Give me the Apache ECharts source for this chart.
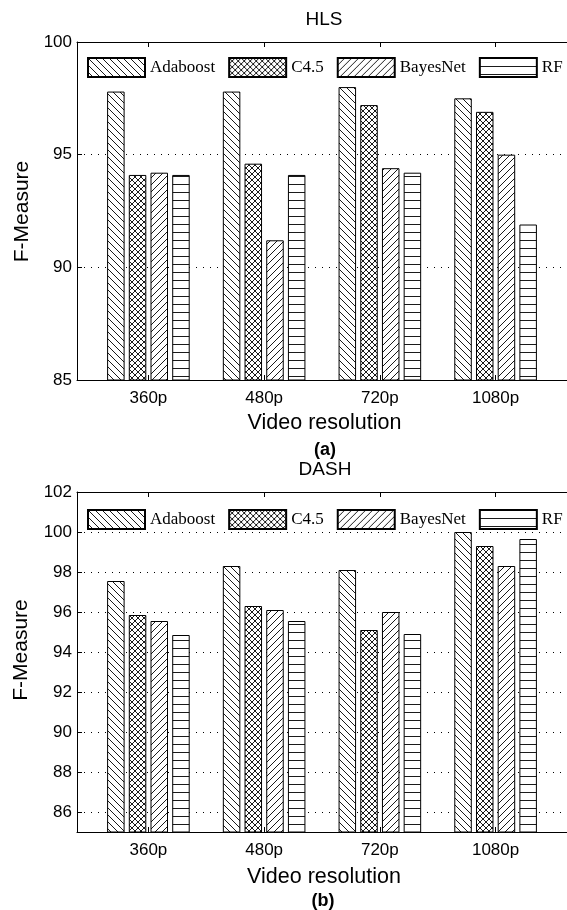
<!DOCTYPE html>
<html>
<head>
<meta charset="utf-8">
<script src="https://cdn.jsdelivr.net/npm/echarts@6/dist/echarts.min.js"></script>
<style>
html,body{margin:0;padding:0;background:#fff;}
#chart{width:567px;height:910px;}
</style>
</head>
<body>
<div id="chart"></div>
<script>
// ---- data ----
const categories = ['360p', '480p', '720p', '1080p'];
const seriesNames = ['Adaboost', 'C4.5', 'BayesNet', 'RF'];

const hlsAdaboost = [97.8, 97.8, 98.0, 97.5];
const hlsC45      = [94.1, 94.6, 97.2, 96.9];
const hlsBayesNet = [94.2, 91.2, 94.4, 95.0];
const hlsRF       = [94.1, 94.1, 94.2, 91.9];

const dashAdaboost = [97.55, 98.3, 98.1, 100.0];
const dashC45      = [95.85, 96.3, 95.1, 99.3];
const dashBayesNet = [95.55, 96.1, 96.0, 98.3];
const dashRF       = [94.85, 95.55, 94.9, 99.65];

const hlsTicks  = [85, 90, 95, 100];
const hlsGrid   = [90, 95];
const dashTicks = [86, 88, 90, 92, 94, 96, 98, 100, 102];
const dashGrid  = [86, 88, 90, 92, 94, 96, 98, 100];

// ---- patterns ----
function makePattern(kind) {
  const c = document.createElement('canvas');
  const ink = '#1a1a1a';
  let w, h;
  if (kind === 'back' || kind === 'fwd') { w = h = 7; }
  else if (kind === 'cross') { w = h = 6; }
  else { w = 4; h = 8; }
  c.width = w; c.height = h;
  const ctx = c.getContext('2d');
  ctx.fillStyle = '#fff';
  ctx.fillRect(0, 0, w, h);
  ctx.fillStyle = ink;
  if (kind === 'back') {
    for (let i = 0; i < w; i++) ctx.fillRect(i, i, 1, 1);
  } else if (kind === 'fwd') {
    for (let i = 0; i < w; i++) ctx.fillRect(w - 1 - i, i, 1, 1);
  } else if (kind === 'cross') {
    for (let i = 0; i < w; i++) { ctx.fillRect(i, i, 1, 1); ctx.fillRect(w - 1 - i, i, 1, 1); }
  } else {
    ctx.fillRect(0, 0, w, 1);
  }
  return { image: c, repeat: 'repeat' };
}
const patterns = [makePattern('back'), makePattern('cross'), makePattern('fwd'), makePattern('horiz')];

const xPos = categories.map((c, i) => i + 1);
const xMin = 0.383, xMax = 4.617;
const sans = '"Liberation Sans", Arial, sans-serif';
const serif = '"Liberation Serif", "Times New Roman", serif';

const grids = [
  { left: 77, top: 42, width: 501, height: 338 },
  { left: 77, top: 492, width: 501, height: 340 }
];
const yRanges = [[85, 100], [85, 102]];
const yTicks = [hlsTicks, dashTicks];
const yGridVals = [hlsGrid, dashGrid];

const xAxes = [], yAxes = [];
[0, 1].forEach(g => {
  xAxes.push({
    type: 'value', gridIndex: g, position: 'bottom', min: xMin, max: xMax,
    axisLine: { show: true, onZero: false, lineStyle: { color: '#000', width: 1 } },
    axisTick: { show: true, customValues: xPos, inside: true, length: 5, lineStyle: { color: '#000' } },
    axisLabel: { show: true, customValues: xPos, formatter: v => categories[Math.round(v) - 1],
      fontSize: 17, fontFamily: sans, color: '#000', margin: 10 },
    splitLine: { show: false }
  });
  xAxes.push({
    type: 'value', gridIndex: g, position: 'top', min: xMin, max: xMax,
    axisLine: { show: true, onZero: false, lineStyle: { color: '#000', width: 1 } },
    axisTick: { show: true, customValues: xPos, inside: true, length: 5, lineStyle: { color: '#000' } },
    axisLabel: { show: false },
    splitLine: { show: false }
  });
  yAxes.push({
    type: 'value', gridIndex: g, position: 'left', min: yRanges[g][0], max: yRanges[g][1],
    axisLine: { show: false },
    axisTick: { show: true, customValues: yGridVals[g], inside: true, length: 501,
      lineStyle: { color: '#000', width: 1, type: [1, 6] } },
    axisLabel: { show: false },
    splitLine: { show: false }
  });
  yAxes.push({
    type: 'value', gridIndex: g, position: 'left', min: yRanges[g][0], max: yRanges[g][1],
    axisLine: { show: true, onZero: false, lineStyle: { color: '#000', width: 1 } },
    axisTick: { show: true, customValues: yTicks[g], inside: true, length: 5, lineStyle: { color: '#000' } },
    axisLabel: { show: true, customValues: yTicks[g], fontSize: 17, fontFamily: sans, color: '#000', margin: 5 },
    splitLine: { show: false }
  });
});

const seriesData = [
  [hlsAdaboost, hlsC45, hlsBayesNet, hlsRF],
  [dashAdaboost, dashC45, dashBayesNet, dashRF]
];
const series = [];
[0, 1].forEach(g => {
  seriesData[g].forEach((vals, k) => {
    series.push({
      type: 'bar', name: seriesNames[k],
      xAxisIndex: g * 2, yAxisIndex: g * 2 + 1,
      data: vals.map((v, i) => [xPos[i], v]),
      barWidth: 17.5, barGap: '24%',
      itemStyle: { color: patterns[k], borderColor: '#000', borderWidth: 1 },
      emphasis: { disabled: true },
      silent: true, z: 3
    });
  });
});

const legendBase = {
  left: 87, padding: 0, itemWidth: 57, itemHeight: 19, itemGap: 13, icon: 'rect',
  selectedMode: false, data: seriesNames,
  textStyle: { fontFamily: serif, fontSize: 17, color: '#000' }
};

function txt(x, y, text, font, rot) {
  return { type: 'text', x: x, y: y, rotation: rot || 0, silent: true,
    style: { text: text, font: font, fill: '#000', align: 'center', verticalAlign: 'middle',
      textAlign: 'center', textVerticalAlign: 'middle' } };
}

const option = {
  animation: false,
  backgroundColor: '#fff',
  grid: grids,
  xAxis: xAxes,
  yAxis: yAxes,
  legend: [Object.assign({ top: 57 }, legendBase), Object.assign({ top: 509 }, legendBase)],
  series: series,
  graphic: [
    txt(324, 20, 'HLS', '19px ' + sans),
    txt(324.5, 423, 'Video resolution', '21.5px ' + sans),
    txt(325, 450.5, '(a)', 'bold 18px ' + sans),
    txt(325, 470, 'DASH', '19px ' + sans),
    txt(324, 877, 'Video resolution', '21.5px ' + sans),
    txt(323, 901, '(b)', 'bold 18px ' + sans),
    txt(22, 211.5, 'F-Measure', '21px ' + sans, Math.PI / 2),
    txt(21, 650, 'F-Measure', '21px ' + sans, Math.PI / 2)
  ]
};

const chart = echarts.init(document.getElementById('chart'), null, { renderer: 'canvas' });
chart.setOption(option);
</script>
</body>
</html>
